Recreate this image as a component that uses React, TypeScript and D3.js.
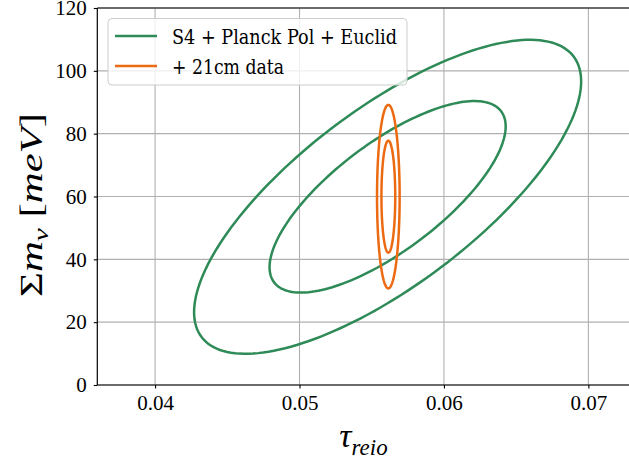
import React, { useEffect, useRef } from "react";
import * as d3 from "d3";

// Fisher-forecast confidence ellipses (tau_reio vs sum of neutrino masses)
const seriesNames = ["S4 + Planck Pol + Euclid", "+ 21cm data"];
const tauCenter = [0.0561, 0.05615];
const mnuCenter = [59.9, 59.95];
const tauSigma = [0.00539, 0.000315];
const mnuSigma = [20.1, 11.75];
const correlation = [0.735, 0.0];
// 68% and 95% levels for two parameters
const deltaChi2 = [2.3, 6.18];

const xTicks = [0.04, 0.05, 0.06, 0.07];
const yTicks = [0, 20, 40, 60, 80, 100, 120];

const colors = ["#2e8b57", "#ec6a12"];
const W = 629;
const H = 466;
const TICK_FONT = "Liberation Serif";
const LEGEND_FONT = "DejaVu Serif";
const LABEL_FONT = "Times New Roman";

const buildChart = (el: SVGSVGElement) => {
  const svg = d3.select(el);
  svg.selectAll("*").remove();

  const x = d3.scaleLinear().domain([0.036, 0.0732]).range([97.3, 634.6]);
  const y = d3.scaleLinear().domain([0, 120]).range([385, 8]);
  const [x0, x1] = [97.3, W];
  const [y0, y1] = [385, 8];

  svg
    .append("defs")
    .append("clipPath")
    .attr("id", "plot-clip")
    .append("rect")
    .attr("x", x0)
    .attr("y", y1)
    .attr("width", x1 - x0)
    .attr("height", y0 - y1);

  // grid
  const grid = svg.append("g").attr("stroke", "#b0b0b0").attr("stroke-width", 1.1);
  grid
    .selectAll(".vgrid")
    .data(xTicks)
    .enter()
    .append("line")
    .attr("x1", d => x(d))
    .attr("x2", d => x(d))
    .attr("y1", y0)
    .attr("y2", y1);
  grid
    .selectAll(".hgrid")
    .data(yTicks)
    .enter()
    .append("line")
    .attr("x1", x0)
    .attr("x2", x1)
    .attr("y1", d => y(d))
    .attr("y2", d => y(d));

  // ellipses
  const angles = d3.range(0, 360, 2).map(a => (a * Math.PI) / 180);
  const line = d3
    .line<[number, number]>()
    .x(d => x(d[0]))
    .y(d => y(d[1]))
    .curve(d3.curveLinearClosed);

  const plot = svg.append("g").attr("clip-path", "url(#plot-clip)");
  seriesNames.forEach((_, i) => {
    deltaChi2.forEach(level => {
      const k = Math.sqrt(level);
      const r = correlation[i];
      const pts: [number, number][] = angles.map(t => [
        tauCenter[i] + k * tauSigma[i] * Math.cos(t),
        mnuCenter[i] + k * mnuSigma[i] * (r * Math.cos(t) + Math.sqrt(1 - r * r) * Math.sin(t)),
      ]);
      plot
        .append("path")
        .attr("d", line(pts))
        .attr("fill", "none")
        .attr("stroke", colors[i])
        .attr("stroke-width", 2.5);
    });
  });

  // axes
  const xAxis = svg
    .append("g")
    .attr("transform", `translate(0,${y0})`)
    .call(
      d3
        .axisBottom(x)
        .tickValues(xTicks)
        .tickSize(3.5)
        .tickPadding(7)
        .tickFormat(d3.format(".2f"))
    );
  const yAxis = svg
    .append("g")
    .attr("transform", `translate(${x0},0)`)
    .call(d3.axisLeft(y).tickValues(yTicks).tickSize(3.5).tickPadding(7));

  [xAxis, yAxis].forEach(ax => {
    ax.select(".domain").remove();
    ax.selectAll("line").attr("stroke", "#000").attr("stroke-width", 1.1);
    ax.attr("font-family", null).attr("font-size", null);
    ax.selectAll("text")
      .style("font-family", TICK_FONT)
      .style("font-size", "21px")
      .attr("fill", "#000");
  });

  // spines
  const spines = svg.append("g").attr("stroke", "#000").attr("stroke-width", 1.2);
  spines.append("line").attr("x1", x0).attr("x2", x0).attr("y1", y0).attr("y2", y1);
  spines.append("line").attr("x1", x0).attr("x2", x1).attr("y1", y0).attr("y2", y0);
  spines.append("line").attr("x1", x0).attr("x2", x1).attr("y1", y1).attr("y2", y1);

  // legend
  const legend = svg.append("g");
  legend
    .append("rect")
    .attr("x", 108)
    .attr("y", 18.5)
    .attr("width", 299)
    .attr("height", 66.5)
    .attr("rx", 4)
    .attr("fill", "#fff")
    .attr("fill-opacity", 0.8)
    .attr("stroke", "#cccccc")
    .attr("stroke-width", 1);
  seriesNames.forEach((name, i) => {
    const ly = 36 + i * 30;
    legend
      .append("line")
      .attr("x1", 115)
      .attr("x2", 157)
      .attr("y1", ly)
      .attr("y2", ly)
      .attr("stroke", colors[i])
      .attr("stroke-width", 2.5);
    legend
      .append("text")
      .attr("x", 172)
      .attr("y", ly + 7.5)
      .style("font-family", LEGEND_FONT)
      .style("font-size", "21px")
      .attr("textLength", i === 0 ? 225 : 112)
      .attr("lengthAdjust", "spacingAndGlyphs")
      .text(name);
  });

  // x label: tau_reio
  const xl = svg
    .append("text")
    .attr("x", 363.5)
    .attr("y", 446.5)
    .attr("text-anchor", "middle")
    .style("font-family", LABEL_FONT)
    .style("font-style", "italic");
  xl.append("tspan").style("font-size", "34px").text("τ");
  xl.append("tspan").style("font-size", "23px").attr("dy", 8).text("reio");

  // y label: Sigma m_nu [meV]
  const yl = svg
    .append("text")
    .attr("transform", "translate(42,205) rotate(-90)")
    .attr("text-anchor", "middle")
    .style("font-family", LABEL_FONT)
    .style("font-size", "32px")
    .attr("textLength", 184)
    .attr("lengthAdjust", "spacingAndGlyphs");
  yl.append("tspan").text("Σ");
  yl.append("tspan").style("font-style", "italic").text("m");
  yl.append("tspan").style("font-style", "italic").style("font-size", "22px").attr("dy", 6).text("ν");
  yl.append("tspan").attr("dy", -6).text(" [");
  yl.append("tspan").style("font-style", "italic").text("meV");
  yl.append("tspan").text("]");
};

export default function App() {
  const ref = useRef<SVGSVGElement>(null);
  useEffect(() => {
    if (ref.current) buildChart(ref.current);
  }, []);
  return (
    <svg
      ref={ref}
      width={W}
      height={H}
      style={{ position: "absolute", left: 0, top: 0, background: "#fff" }}
    />
  );
}
